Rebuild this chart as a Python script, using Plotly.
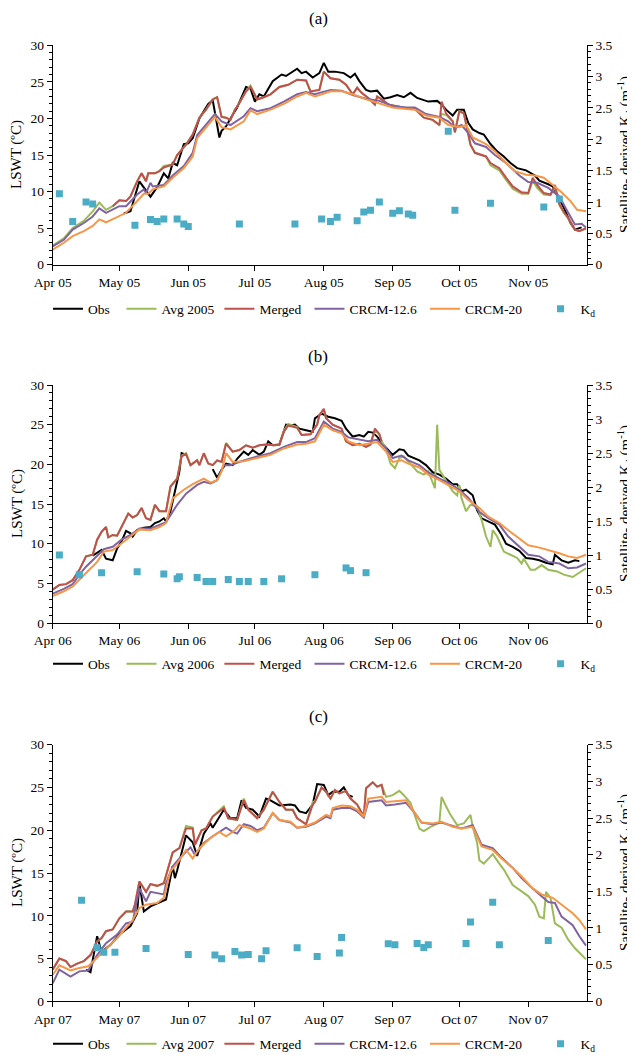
import pandas as pd
import plotly.graph_objects as go

# ---------------- Panel (a) 2005  (x values = days since 1 April) ----------------
A_obs_day = [32, 35, 39, 41, 44, 47, 50, 52, 54, 56, 59, 61, 63, 66, 70, 72, 75, 76, 78, 80,
             83, 87, 89, 91, 93, 95, 99, 103, 105, 110, 112, 114, 117, 120, 122, 124, 127, 131, 134, 136,
             138, 141, 143, 146, 149, 152, 155, 158, 161, 164, 169, 173, 175, 177, 180, 182, 185, 187, 189, 192,
             194, 197, 200, 203, 206, 209, 213, 217, 219, 223, 225, 227, 230, 233, 235, 238]
A_obs = [7.0, 7.3, 11.4, 10.5, 9.3, 10.6, 12.5, 11.8, 13.9, 13.6, 16.5, 16.6, 17.3, 20.0, 22.0, 22.5, 17.4, 18.3, 18.9, 20.0,
         21.5, 24.3, 24.1, 22.3, 23.3, 23.0, 25.1, 26.0, 25.8, 26.8, 26.2, 26.4, 25.6, 26.2, 27.6, 26.4, 26.4, 26.2, 25.6, 26.1,
         25.1, 23.9, 23.7, 23.8, 22.7, 22.9, 23.2, 22.9, 23.5, 22.8, 22.3, 22.4, 21.9, 21.2, 20.4, 21.2, 21.2, 19.4, 18.5, 18.0,
         17.8, 16.5, 15.5, 14.8, 13.9, 13.2, 12.9, 12.2, 11.5, 11.0, 10.7, 9.6, 7.8, 5.7, 4.8, 5.1]

A_avg_day = [0, 5, 9, 14, 18, 21, 24, 27, 30, 33, 35, 38, 40, 42, 43, 46, 48, 50, 54, 56,
             60, 63, 66, 69, 72, 74, 76, 78, 80, 82, 84, 87, 89, 90, 92, 95, 98, 102, 106, 110,
             114, 116, 120, 122, 125, 129, 132, 135, 137, 139, 142, 145, 146, 149, 151, 159, 163, 167, 171, 174,
             175, 177, 180, 181, 183, 185, 188, 190, 195, 197, 201, 204, 207, 211, 214, 216, 218, 221, 224, 226,
             228, 230, 232, 235, 237, 240]
A_avg = [2.6, 3.6, 5.0, 6.0, 7.3, 8.5, 7.5, 8.0, 8.8, 8.7, 9.35, 11.4, 12.5, 11.4, 12.5, 12.5, 12.8, 13.5, 13.7, 15.0,
         16.4, 17.8, 20.1, 21.2, 22.6, 22.9, 20.2, 20.1, 19.8, 21.2, 22.1, 23.7, 24.5, 23.8, 22.6, 22.9, 23.3, 24.3, 24.6, 25.3,
         25.2, 23.7, 23.9, 26.4, 25.5, 25.3, 24.6, 23.3, 24.2, 23.5, 22.8, 21.9, 23.0, 22.4, 21.9, 21.4, 21.3, 20.1, 19.8, 19.1,
         20.6, 20.5, 19.6, 18.1, 21.0, 20.7, 16.4, 15.3, 14.8, 13.6, 12.9, 11.6, 10.4, 9.7, 9.7, 11.5, 10.5, 9.6, 9.5, 10.6,
         8.1, 7.1, 6.3, 4.8, 4.6, 4.9]

A_mrg_day = [27, 30, 33, 35, 38, 40, 42, 43, 46, 48, 50, 54, 56, 60, 63, 66, 69, 72, 74, 76,
             78, 80, 82, 84, 87, 89, 90, 92, 95, 98, 102, 106, 110, 114, 116, 120, 122, 125, 129, 132,
             135, 137, 139, 142, 145, 146, 149, 151, 159, 163, 167, 171, 174, 175, 177, 180, 181, 183, 185, 188,
             190, 195, 197, 201, 204, 207, 211, 214, 216, 218, 221, 224, 226, 228, 230, 232, 235, 237, 240]
A_mrg = [8.0, 8.8, 8.7, 9.35, 11.4, 12.5, 11.4, 12.5, 12.5, 12.8, 13.3, 13.7, 15.0, 16.4, 17.8, 20.1, 21.2, 22.6, 22.9, 20.2,
         20.1, 19.8, 21.2, 22.1, 23.7, 24.3, 23.8, 22.6, 22.9, 23.3, 24.3, 24.6, 25.3, 25.2, 23.7, 23.9, 26.4, 25.5, 25.3, 24.6,
         23.3, 24.2, 23.5, 22.8, 21.9, 23.0, 22.4, 21.9, 21.4, 21.3, 20.1, 19.8, 19.1, 22.3, 20.7, 19.6, 18.1, 21.0, 20.7, 16.4,
         15.3, 14.8, 13.9, 13.2, 11.9, 10.7, 9.9, 9.8, 11.9, 10.9, 9.8, 9.6, 10.9, 8.3, 7.2, 6.4, 4.8, 4.6, 5.0]

A_c12_day = [0, 5, 9, 14, 18, 21, 24, 30, 33, 38, 41, 42, 44, 45, 50, 54, 59, 63, 65, 69,
             73, 76, 80, 86, 89, 92, 98, 104, 110, 114, 118, 120, 125, 130, 135, 141, 147, 153, 159, 163,
             168, 174, 178, 181, 184, 187, 190, 195, 199, 204, 210, 214, 218, 223, 228, 232, 235, 238, 240]
A_c12 = [2.5, 3.4, 4.8, 5.7, 6.6, 7.7, 7.1, 8.0, 8.0, 9.6, 10.3, 9.8, 11.2, 10.7, 10.9, 12.2, 13.5, 15.3, 17.7, 19.2,
         20.6, 19.6, 19.1, 20.3, 21.4, 21.0, 21.4, 22.3, 23.3, 23.6, 23.3, 23.5, 23.9, 23.8, 23.2, 22.7, 22.4, 21.7, 21.5, 21.5,
         20.6, 20.2, 19.6, 18.7, 19.1, 18.0, 16.6, 16.1, 15.0, 13.9, 12.2, 11.3, 11.2, 10.5, 9.3, 7.1, 5.5, 5.6, 5.1]

A_c20_day = [0, 5, 9, 14, 18, 21, 24, 29, 33, 38, 41, 43, 45, 50, 54, 59, 63, 65, 69, 73,
             76, 80, 86, 89, 92, 98, 104, 110, 114, 118, 120, 125, 130, 135, 141, 147, 153, 159, 163, 168,
             174, 178, 183, 186, 189, 195, 199, 204, 208, 213, 217, 221, 225, 229, 233, 236, 240]
A_c20 = [2.05, 3.0, 3.9, 4.6, 5.3, 6.2, 5.8, 6.5, 7.1, 8.7, 9.7, 9.7, 10.3, 10.7, 11.9, 13.2, 14.8, 17.3, 18.7, 20.2,
         18.8, 18.5, 19.6, 21.1, 20.6, 21.2, 22.0, 23.0, 23.5, 23.0, 23.2, 23.7, 23.7, 23.3, 22.6, 22.1, 21.5, 21.3, 21.2, 20.4,
         20.1, 19.1, 18.8, 19.1, 17.4, 16.5, 15.5, 13.9, 12.8, 12.3, 12.2, 11.9, 10.9, 9.9, 8.7, 7.5, 7.3]

A_kd_day = [3, 9, 15, 18, 37, 44, 47, 50, 56, 59, 61, 84, 109, 121, 125, 128, 137, 140, 143, 147,
            153, 156, 160, 162, 178, 181, 197, 221, 228]
A_kd = [1.13, 0.69, 1.0, 0.97, 0.63, 0.72, 0.69, 0.73, 0.73, 0.65, 0.61, 0.65, 0.65, 0.73, 0.69, 0.755, 0.70, 0.84, 0.87, 1.0,
        0.82, 0.86, 0.81, 0.79, 2.13, 0.87, 0.98, 0.92, 1.05]

# ---------------- Panel (b) 2006 ----------------
B_obs_day = [18, 22, 24, 27, 29, 31, 33, 35, 36, 38, 41, 44, 46, 48, 50, 51, 53, 55, 57, 58,
             60, 66, 72, 74, 76, 78, 81, 83, 86, 88, 90, 93, 95, 97, 99, 102, 105, 107, 109, 111,
             114, 117, 118, 121, 124, 127, 130, 132, 135, 138, 140, 142, 144, 146, 149, 153, 156, 158, 160, 163,
             165, 168, 171, 174, 177, 180, 182, 184, 186, 189, 191, 193, 196, 199, 202, 204, 207, 210, 213, 216,
             219, 222, 225, 226, 229, 232, 235, 237]
B_obs = [8.5, 9.2, 8.1, 7.9, 9.4, 10.3, 11.6, 11.3, 10.9, 11.7, 12.0, 12.1, 12.6, 12.8, 13.2, 12.8, 14.1, 16.6, 19.1, 21.4,
         21.2, None, 19.4, 18.3, 19.3, 20.1, 19.9, 20.7, 21.6, 21.2, 21.8, 21.2, 21.6, 22.9, 22.4, 22.5, 25.0, 24.9, 25.0, 24.5,
         24.3, 24.1, 25.8, 26.4, 26.0, 25.8, 25.5, 24.5, 23.5, 23.7, 23.5, 24.1, 24.0, 23.5, 22.4, 21.2, 21.9, 21.8, 21.1, 20.8,
         20.5, 19.9, 19.0, 18.7, 18.2, 17.5, 17.5, 16.6, 16.8, 16.1, 14.2, 13.2, 12.8, 12.4, 11.1, 10.0, 9.6, 9.1, 8.2, 8.1,
         7.9, 7.6, 7.4, 8.6, 7.9, 7.6, 7.9, 7.8]

B_avg_day = [0, 3, 6, 9, 12, 15, 18, 20, 22, 24, 25, 27, 29, 31, 34, 36, 38, 40, 42, 44,
             46, 48, 51, 53, 56, 58, 60, 62, 65, 66, 68, 70, 72, 74, 76, 78, 81, 84, 87, 90,
             93, 96, 100, 102, 104, 106, 110, 112, 116, 119, 120, 122, 123, 126, 128, 130, 132, 135, 138, 141,
             143, 145, 147, 148, 150, 152, 154, 156, 158, 161, 164, 167, 169, 172, 173, 174, 176, 178, 180, 182,
             183, 184, 186, 188, 191, 193, 195, 197, 198, 200, 203, 206, 209, 211, 212, 215, 217, 220, 223, 227,
             230, 234, 237, 240]
B_avg = [4.2, 4.8, 4.9, 5.4, 6.7, 8.4, 8.6, 10.5, 11.5, 12.1, 10.8, 11.1, 11.0, 12.1, 13.8, 13.3, 13.6, 14.5, 13.2, 13.0,
         14.9, 14.1, 14.1, 17.2, 18.2, 21.1, 21.4, 19.9, 20.5, 19.9, 21.4, 20.1, 19.9, 20.5, 20.3, 22.7, 21.6, 21.8, 22.4, 22.1,
         22.4, 22.5, 22.4, 22.5, 24.2, 25.1, 24.7, 23.7, 23.8, 25.0, 26.2, 26.9, 25.8, 25.0, 24.7, 24.5, 22.9, 22.4, 22.6, 22.2,
         22.5, 24.3, 23.8, 22.9, 22.0, 20.1, 19.5, 20.8, 21.0, 20.1, 19.1, 18.7, 19.1, 17.0, 25.0, 19.3, 18.4, 17.5, 16.6, 16.1,
         17.4, 15.7, 14.1, 14.9, 14.7, 13.0, 10.9, 9.6, 11.7, 10.9, 9.0, 8.6, 8.2, 7.5, 8.1, 6.7, 6.7, 7.3, 6.7, 6.5,
         6.1, 5.8, 6.3, 6.9]

B_mrg_day = [0, 3, 6, 9, 12, 15, 18, 20, 22, 24, 25, 27, 29, 31, 34, 36, 38, 40, 42, 44,
             46, 48, 51, 53, 56, 58, 60, 62, 65, 66, 68, 70, 72, 74, 76, 78, 81, 84, 87, 90,
             93, 96, 100, 102, 104, 106, 110, 112, 116, 119, 120, 122, 123, 126, 128, 130, 132, 135, 138, 141,
             143, 145, 147, 148]
B_mrg = [4.2, 4.8, 4.9, 5.4, 6.7, 8.4, 8.6, 10.5, 11.5, 12.1, 10.8, 11.1, 11.0, 12.1, 13.8, 13.3, 13.6, 14.5, 13.2, 13.0,
         14.9, 14.1, 14.1, 17.2, 18.2, 21.0, 21.3, 19.9, 20.5, 19.9, 21.4, 20.1, 19.9, 20.5, 20.3, 22.6, 21.6, 21.8, 22.4, 22.1,
         22.4, 22.5, 22.4, 22.5, 24.1, 24.9, 24.6, 23.7, 23.8, 25.0, 26.2, 27.0, 25.8, 25.0, 24.7, 24.5, 22.9, 22.4, 22.6, 22.2,
         22.5, 24.5, 23.8, 22.9]

B_c12_day = [0, 5, 9, 12, 15, 20, 23, 27, 31, 35, 39, 44, 48, 51, 56, 60, 65, 68, 71, 74,
             77, 80, 86, 92, 98, 104, 110, 114, 118, 122, 126, 130, 133, 138, 142, 146, 150, 153, 157, 160,
             165, 169, 174, 178, 183, 187, 192, 196, 201, 205, 210, 214, 219, 223, 228, 232, 236, 240]
B_c12 = [3.7, 4.3, 4.9, 6.1, 7.1, 8.4, 9.3, 9.6, 10.5, 11.1, 11.9, 11.9, 12.4, 12.7, 14.9, 16.3, 17.4, 17.8, 17.6, 18.0,
         19.9, 19.9, 20.5, 21.0, 21.4, 22.2, 22.8, 22.8, 23.3, 25.4, 24.5, 24.1, 23.4, 23.1, 22.9, 23.1, 22.0, 20.8, 21.1, 20.5,
         19.9, 19.0, 18.2, 17.7, 16.8, 15.8, 14.0, 13.2, 12.4, 10.9, 9.6, 8.6, 8.4, 7.7, 7.5, 6.9, 7.0, 7.5]

B_c20_day = [0, 5, 9, 12, 15, 20, 23, 27, 30, 35, 39, 44, 48, 51, 54, 59, 63, 68, 71, 74,
             76, 78, 81, 86, 92, 98, 104, 110, 114, 118, 122, 126, 130, 133, 138, 142, 146, 150, 153, 157,
             160, 165, 169, 174, 178, 183, 187, 192, 196, 201, 205, 210, 214, 219, 223, 228, 232, 236, 240]
B_c20 = [3.4, 4.0, 4.6, 5.4, 6.3, 7.7, 9.0, 9.2, 9.8, 10.9, 11.8, 11.7, 12.1, 12.6, 15.7, 16.8, 17.5, 18.2, 17.7, 18.0,
         19.1, 21.4, 20.3, 20.4, 20.8, 21.2, 22.0, 22.5, 22.6, 22.9, 25.0, 24.3, 23.9, 22.9, 22.4, 22.6, 22.8, 21.6, 20.3, 20.5,
         20.1, 19.6, 18.7, 18.0, 17.4, 16.6, 15.5, 14.5, 13.4, 12.6, 11.7, 10.7, 9.8, 9.5, 9.2, 8.8, 8.4, 8.2, 8.6]

B_kd_day = [3, 12, 22, 38, 50, 56, 57, 65, 69, 72, 79, 84, 88, 95, 103, 118, 132, 134, 141]
B_kd = [1.0, 0.71, 0.74, 0.755, 0.72, 0.65, 0.68, 0.67, 0.61, 0.61, 0.64, 0.61, 0.61, 0.61, 0.65, 0.71, 0.81, 0.77, 0.74]

# ---------------- Panel (c) 2007 ----------------
C_obs_day = [15, 17, 20, 22, 26, 30, 35, 38, 39, 41, 44, 48, 51, 54, 55, 56, 58, 60, 63, 65,
             66, 68, 71, 72, 77, 80, 83, 85, 87, 90, 93, 96, 98, 102, 107, 109, 111, 114, 117, 119,
             122, 124, 126, 129, 131, 133, 135]
C_obs = [3.7, 3.4, 7.6, 5.8, 6.6, 7.8, 8.8, 10.3, 13.8, 10.5, 11.1, 11.6, 11.9, 15.8, 14.4, 15.3, 17.3, 19.4, 18.6, 17.0,
         17.8, 19.6, 20.8, 20.3, 22.4, 21.4, 21.4, 23.5, 22.6, 22.4, 21.6, 23.7, 23.5, 22.9, 23.0, 22.9, 22.2, 22.0, 23.0, 25.4,
         25.3, 24.1, 24.5, 24.5, 25.0, 24.1, 23.9]

C_avg_day = [0, 3, 6, 8, 11, 14, 17, 20, 22, 24, 27, 30, 33, 36, 37, 39, 42, 44, 47, 50,
             54, 57, 60, 63, 64, 67, 69, 72, 77, 79, 83, 86, 88, 92, 95, 99, 102, 105, 108, 110,
             114, 117, 118, 121, 123, 125, 127, 129, 132, 134, 137, 140, 141, 144, 146, 148, 150, 153, 156, 158,
             161, 163, 165, 167, 170, 174, 175, 177, 179, 182, 185, 188, 189, 191, 192, 194, 196, 198, 201, 203,
             207, 211, 214, 217, 219, 221, 222, 224, 226, 229, 232, 235, 237, 240]
C_avg = [3.7, 5.0, 4.7, 4.0, 4.4, 4.7, 5.4, 7.0, 7.4, 8.2, 8.4, 9.7, 10.5, 10.5, 11.3, 14.0, 12.8, 13.7, 13.5, 13.8,
         17.4, 17.9, 20.5, 20.3, 18.3, 20.0, 20.2, 21.6, 22.8, 21.4, 21.2, 23.7, 22.4, 21.4, 22.4, 24.5, 23.3, 22.4, 22.4, 21.4,
         20.7, 23.3, 23.4, 25.0, 24.5, 23.7, 24.7, 24.3, 24.6, 23.7, 23.0, 21.6, 24.9, 25.6, 25.1, 25.3, 23.9, 24.1, 24.6, 24.1,
         23.2, 21.8, 20.2, 19.9, 20.4, 20.9, 23.9, 22.8, 21.8, 20.6, 20.8, 21.8, 20.4, 18.5, 16.5, 16.1, 16.7, 17.2, 16.1, 15.4,
         13.6, 12.8, 12.3, 11.3, 9.9, 9.7, 12.8, 12.1, 9.1, 8.6, 7.2, 6.2, 5.7, 4.9]

C_mrg_day = [0, 3, 6, 8, 11, 14, 17, 20, 22, 24, 27, 30, 33, 36, 37, 39, 42, 44, 47, 50,
             54, 57, 60, 63, 64, 67, 69, 72, 77, 79, 83, 86, 88, 92, 95, 99, 102, 105, 108, 110,
             114, 117, 118, 121, 123, 125, 127, 129, 132, 134, 137, 140, 141, 144, 146, 148, 149]
C_mrg = [3.7, 5.0, 4.7, 4.0, 4.4, 4.7, 5.4, 7.0, 7.4, 8.2, 8.4, 9.7, 10.5, 10.5, 11.3, 14.0, 12.8, 13.7, 13.5, 13.8,
         17.4, 17.9, 20.2, 20.2, 18.3, 20.0, 20.2, 21.6, 22.6, 21.4, 21.2, 23.5, 22.4, 21.4, 22.4, 24.5, 23.3, 22.4, 22.4, 21.4,
         20.7, 23.0, 23.3, 25.0, 24.5, 23.7, 24.7, 24.3, 24.6, 23.7, 23.0, 21.6, 24.9, 25.6, 25.1, 25.3, 24.1]

C_c12_day = [0, 3, 8, 12, 16, 20, 24, 29, 33, 36, 39, 42, 44, 50, 51, 54, 57, 62, 64, 68,
             72, 78, 81, 83, 86, 89, 92, 95, 99, 102, 107, 110, 114, 118, 123, 125, 126, 130, 134, 137,
             140, 142, 148, 150, 154, 159, 163, 166, 171, 175, 180, 184, 189, 193, 198, 202, 207, 211, 216, 219,
             223, 226, 229, 234, 237, 240]
C_c12 = [2.1, 3.7, 2.9, 3.5, 3.6, 5.4, 6.8, 7.8, 9.1, 9.3, 13.2, 11.7, 12.8, 12.5, 13.8, 15.8, 16.7, 18.0, 17.1, 18.5,
         19.3, 20.3, 19.8, 19.6, 20.7, 20.5, 20.0, 20.3, 22.0, 21.2, 20.9, 20.3, 20.4, 20.8, 21.6, 21.4, 22.4, 22.6, 22.6, 22.2,
         21.5, 23.3, 23.5, 22.9, 23.0, 23.2, 22.0, 20.9, 20.7, 20.9, 20.5, 20.2, 20.6, 18.3, 17.9, 16.8, 15.6, 14.4, 13.2, 12.5,
         11.6, 11.5, 9.9, 8.9, 7.6, 6.5]

C_c20_day = [0, 3, 8, 12, 16, 20, 24, 29, 33, 36, 39, 42, 47, 50, 53, 56, 60, 63, 66, 71,
             75, 78, 82, 84, 89, 92, 95, 99, 102, 107, 110, 114, 118, 123, 125, 126, 130, 134, 137, 140,
             142, 148, 150, 154, 159, 163, 166, 171, 175, 180, 184, 189, 193, 198, 202, 207, 211, 216, 220, 225,
             229, 234, 237, 240]
C_c20 = [3.1, 4.2, 3.6, 3.9, 4.1, 5.1, 6.2, 7.4, 8.6, 9.5, 10.9, 11.3, 11.5, 12.1, 15.2, 16.1, 17.7, 16.7, 17.9, 19.1,
         19.8, 19.3, 20.0, 20.6, 20.2, 19.8, 20.2, 22.0, 21.2, 21.0, 20.3, 20.5, 20.9, 21.8, 21.6, 22.6, 22.9, 22.8, 22.4, 21.6,
         23.7, 23.9, 23.3, 23.4, 23.5, 22.0, 20.9, 20.8, 21.0, 20.4, 20.2, 20.4, 18.1, 17.7, 16.7, 15.6, 14.6, 13.2, 12.5, 12.1,
         11.3, 10.3, 9.5, 8.4]

C_kd_day = [13, 20, 23, 28, 42, 61, 73, 76, 82, 85, 88, 94, 96, 110, 119, 129, 130, 151, 154, 164,
            167, 169, 186, 188, 198, 201, 223]
C_kd = [1.38, 0.73, 0.67, 0.67, 0.72, 0.64, 0.63, 0.58, 0.68, 0.63, 0.64, 0.58, 0.69, 0.73, 0.61, 0.66, 0.87, 0.785, 0.77, 0.79,
        0.735, 0.77, 0.79, 1.08, 1.35, 0.77, 0.83]

PANEL_LABELS = ["(a)", "(b)", "(c)"]
YEARS = [2005, 2006, 2007]
AVG_NAMES = ["Avg 2005", "Avg 2006", "Avg 2007"]
LEFT_TITLE = "LSWT (ºC)"
RIGHT_TITLE = "Satellite- derived K<sub>d</sub> (m<sup>-1</sup>)"

# ---------------- styling / geometry (window pixels) ----------------
FONT = "Liberation Serif, Times New Roman, DejaVu Serif, serif"
COL = {"obs": "#000000", "avg": "#9BBB59", "mrg": "#C0504D", "c12": "#8064A2", "c20": "#F79646", "kd": "#4BACC6"}
NB = "\u00a0"
PAD = {"obs": NB * 2, "avg": "", "mrg": NB, "c12": NB, "c20": NB * 4}
OFF = 8                      # default page (body) margin in the browser
W, H = 635 - OFF, 1055 - OFF
AX_L, AX_R = 52.7, 586.7     # plot-area edges, window px
PX_TOP = [45.3, 385.0, 744.7]
PX_BOT = [264.7, 623.0, 1001.3]
TITLE_Y = [18, 357, 716]
LEGEND_Y = [309, 664, 1044]


def dates(year, days):
    return pd.Timestamp(f"{year}-04-01") + pd.to_timedelta(days, unit="D")


def px_x(px):
    return (px - OFF) / W


def px_y(py):
    return 1 - (py - OFF) / H


panels = [
    (A_obs_day, A_obs, A_avg_day, A_avg, A_mrg_day, A_mrg, A_c12_day, A_c12, A_c20_day, A_c20, A_kd_day, A_kd),
    (B_obs_day, B_obs, B_avg_day, B_avg, B_mrg_day, B_mrg, B_c12_day, B_c12, B_c20_day, B_c20, B_kd_day, B_kd),
    (C_obs_day, C_obs, C_avg_day, C_avg, C_mrg_day, C_mrg, C_c12_day, C_c12, C_c20_day, C_c20, C_kd_day, C_kd),
]

fig = go.Figure()
layout = dict(
    width=W, height=H, margin=dict(l=0, r=0, t=0, b=0, autoexpand=False),
    paper_bgcolor="white", plot_bgcolor="white",
    font=dict(family=FONT, size=13.5, color="black"),
    annotations=[],
)

for i, p in enumerate(panels):
    yr = YEARS[i]
    xa = "x" if i == 0 else f"x{i + 1}"
    yl = "y" if i == 0 else f"y{2 * i + 1}"
    yr_ax = f"y{2 * i + 2}"
    leg = "legend" if i == 0 else f"legend{i + 1}"
    od, ov, ad, av, md, mv, c12d, c12v, c20d, c20v, kdd, kdv = p
    series = [("Obs", od, ov, "obs"), (AVG_NAMES[i], ad, av, "avg"), ("Merged", md, mv, "mrg"),
              ("CRCM-12.6", c12d, c12v, "c12"), ("CRCM-20", c20d, c20v, "c20")]
    for name, d, v, key in series:
        fig.add_trace(go.Scatter(x=dates(yr, d), y=v, mode="lines", name=name + PAD[key],
                                 line=dict(color=COL[key], width=2), xaxis=xa, yaxis=yl, legend=leg,
                                 connectgaps=False))
    fig.add_trace(go.Scatter(x=dates(yr, kdd), y=kdv, mode="markers", name="K<sub>d</sub>",
                             marker=dict(symbol="square", size=7, color=COL["kd"]),
                             xaxis=xa, yaxis=yr_ax, legend=leg))

    start = pd.Timestamp(f"{yr}-04-01")
    xkey = "xaxis" if i == 0 else f"xaxis{i + 1}"
    ylkey = "yaxis" if i == 0 else f"yaxis{2 * i + 1}"
    yrkey = f"yaxis{2 * i + 2}"
    layout[xkey] = dict(
        domain=[px_x(AX_L), px_x(AX_R)], anchor=yl, type="date",
        range=[start, start + pd.Timedelta(hours=240.3 * 24)],
        dtick="M1", tick0=start, tickformat="%b %y",
        showline=True, linecolor="black", linewidth=1,
        ticks="outside", ticklen=5, tickcolor="black",
        showgrid=False, zeroline=False, tickfont=dict(family=FONT, size=13.5),
    )
    layout[ylkey] = dict(
        domain=[px_y(PX_BOT[i]), px_y(PX_TOP[i])], anchor=xa, range=[0, 30], dtick=5,
        showline=True, linecolor="black", linewidth=1,
        ticks="outside", ticklen=5, tickcolor="black",
        minor=dict(dtick=1, ticks="outside", ticklen=3, tickcolor="black"),
        showgrid=False, zeroline=False, tickfont=dict(family=FONT, size=13.5),
    )
    layout[yrkey] = dict(
        overlaying=yl, side="right", anchor=xa, range=[0, 3.5], dtick=0.5,
        showline=True, linecolor="black", linewidth=1,
        ticks="outside", ticklen=5, tickcolor="black",
        minor=dict(dtick=0.1, ticks="outside", ticklen=3, tickcolor="black"),
        showgrid=False, zeroline=False, tickfont=dict(family=FONT, size=13.5),
    )
    layout[leg] = dict(
        orientation="h", x=px_x(48), xanchor="left", y=px_y(LEGEND_Y[i]), yanchor="middle",
        font=dict(family=FONT, size=13.5), bgcolor="rgba(0,0,0,0)", itemwidth=30,
    )
    mid = (PX_TOP[i] + PX_BOT[i]) / 2
    layout["annotations"] += [
        dict(text=PANEL_LABELS[i], xref="paper", yref="paper",
             x=px_x(318), y=px_y(TITLE_Y[i]), xanchor="center", yanchor="middle",
             showarrow=False, font=dict(family=FONT, size=17)),
        dict(text=LEFT_TITLE, xref="paper", yref="paper", textangle=-90,
             x=px_x(17), y=px_y(mid), xanchor="center", yanchor="middle",
             showarrow=False, font=dict(family=FONT, size=15)),
        dict(text=RIGHT_TITLE, xref="paper", yref="paper", textangle=-90,
             x=px_x(625), y=px_y(mid), xanchor="center", yanchor="middle",
             showarrow=False, font=dict(family=FONT, size=15)),
    ]

fig.update_layout(**layout)
fig.write_html("out.html")
